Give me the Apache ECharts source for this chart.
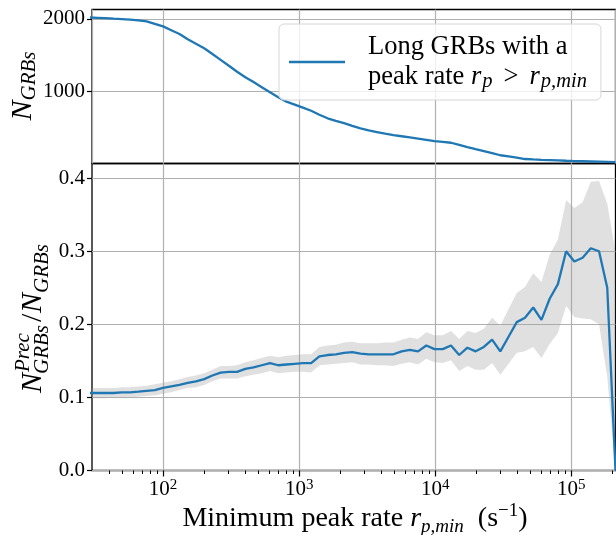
<!DOCTYPE html>
<html><head><meta charset="utf-8">
<script src="https://cdn.jsdelivr.net/npm/echarts@6/dist/echarts.min.js"></script>
<style>html,body{margin:0;padding:0;background:#fff}#c{width:616px;height:535px}</style>
</head><body><div id="c"></div>
<script>
// ---- data ----
const rpMin = [28.5, 32.8, 37.7, 43.3, 49.8, 57.2, 65.8, 75.6, 86.9, 99.9, 114.8, 131.9, 151.7, 174.3, 200.4, 230.3, 264.7, 304.3, 349.8, 402.0, 462.0, 531.1, 610.5, 701.8, 806.5, 927.1, 1066, 1225, 1408, 1618, 1860, 2138, 2457, 2824, 3246, 3732, 4289, 4930, 5667, 6513, 7486, 8604, 9890, 11370, 13070, 15020, 17260, 19840, 22800, 26210, 30130, 34630, 39800, 45750, 52580, 60440, 69470, 79850, 91780, 105500, 121300, 139400, 160200, 184100, 211700];
const nGRBs = [2020, 2015, 2010, 2003, 1997, 1990, 1980, 1966, 1931, 1897, 1844, 1791, 1719, 1656, 1594, 1515, 1434, 1352, 1269, 1194, 1126, 1056, 985, 915, 856, 815, 773, 730, 674, 625, 590, 558, 521, 487, 457, 435, 413, 394, 377, 360, 343, 326, 309, 299, 287, 258, 228, 199, 171, 143, 114, 97, 80, 62, 56, 51, 47, 43, 38, 34, 31, 28, 25, 22, 18];
const fracPrec = [0.106, 0.106, 0.106, 0.106, 0.107, 0.107, 0.108, 0.109, 0.110, 0.113, 0.115, 0.117, 0.120, 0.122, 0.125, 0.130, 0.134, 0.135, 0.135, 0.139, 0.141, 0.144, 0.147, 0.144, 0.145, 0.146, 0.147, 0.147, 0.156, 0.158, 0.159, 0.161, 0.162, 0.160, 0.159, 0.159, 0.159, 0.159, 0.163, 0.165, 0.163, 0.171, 0.166, 0.166, 0.171, 0.158, 0.168, 0.163, 0.169, 0.179, 0.163, 0.183, 0.203, 0.209, 0.223, 0.206, 0.235, 0.255, 0.300, 0.286, 0.291, 0.304, 0.300, 0.250, 0.0];
const fracHigh = [0.113, 0.113, 0.113, 0.113, 0.114, 0.114, 0.115, 0.116, 0.118, 0.120, 0.122, 0.125, 0.128, 0.130, 0.133, 0.138, 0.143, 0.143, 0.144, 0.148, 0.151, 0.154, 0.157, 0.155, 0.157, 0.158, 0.159, 0.159, 0.169, 0.171, 0.172, 0.175, 0.176, 0.174, 0.174, 0.174, 0.175, 0.175, 0.179, 0.182, 0.180, 0.189, 0.185, 0.185, 0.191, 0.180, 0.191, 0.188, 0.194, 0.209, 0.198, 0.221, 0.243, 0.251, 0.270, 0.258, 0.295, 0.316, 0.370, 0.359, 0.367, 0.395, 0.396, 0.365, 0.299];
const fracLow = [0.099, 0.099, 0.099, 0.100, 0.100, 0.100, 0.101, 0.102, 0.103, 0.105, 0.107, 0.110, 0.113, 0.114, 0.117, 0.122, 0.126, 0.126, 0.126, 0.129, 0.131, 0.133, 0.136, 0.133, 0.134, 0.135, 0.135, 0.134, 0.144, 0.145, 0.146, 0.147, 0.148, 0.145, 0.145, 0.144, 0.144, 0.143, 0.146, 0.148, 0.145, 0.153, 0.148, 0.147, 0.151, 0.136, 0.143, 0.138, 0.138, 0.147, 0.131, 0.146, 0.161, 0.163, 0.169, 0.154, 0.173, 0.188, 0.225, 0.210, 0.208, 0.207, 0.200, 0.128, 0.0];
const xTickValues = [100, 1000, 10000, 100000];
const nTickValues = [1000, 2000];
const fracTickValues = [0, 0.1, 0.2, 0.3, 0.4];
const seriesName = 'Long GRBs with a peak rate r_p > r_p,min';

// ---- styling ----
const FONT = 'Liberation Serif';
const BLUE = '#1f77b4';
const GRIDC = '#b0b0b0';
const X_MIN = 30, X_MAX = 211700;

const minorTicks = [];
for (let d = 1; d <= 5; d++) {
  for (let m = 2; m <= 9; m++) {
    const v = m * Math.pow(10, d);
    if (v > X_MIN && v < X_MAX) minorTicks.push(v);
  }
}

const chart = echarts.init(document.getElementById('c'), null, {renderer: 'canvas'});

const supLabel = {
  b: {fontFamily: FONT, fontSize: 21, lineHeight: 24, color: '#000'},
  s: {fontFamily: FONT, fontSize: 15, lineHeight: 12, verticalAlign: 'top', color: '#000'}
};

const baseLog = {
  type: 'log', logBase: 10, min: X_MIN, max: X_MAX,
  axisLine: {show: false}
};

const option = {
  animation: false,
  backgroundColor: '#fff',
  grid: [
    {left: 92, top: 9.5, width: 523.5, height: 154, show: true, borderColor: '#000', borderWidth: 1.3, backgroundColor: 'transparent'},
    {left: 92, top: 163.5, width: 523.5, height: 307, show: true, borderColor: '#000', borderWidth: 1.3, backgroundColor: 'transparent'}
  ],
  xAxis: [
    Object.assign({}, baseLog, {
      gridIndex: 0, position: 'bottom',
      axisTick: {show: false}, axisLabel: {show: false},
      splitLine: {show: true, lineStyle: {color: GRIDC, width: 1.2}}
    }),
    Object.assign({}, baseLog, {
      gridIndex: 1, position: 'bottom',
      axisTick: {show: true, length: 6, customValues: xTickValues, lineStyle: {color: '#000', width: 1.2}},
      axisLabel: {
        show: true, customValues: xTickValues, margin: 7,
        formatter: v => '{b|10}{s|' + Math.round(Math.log10(v)) + '}',
        rich: supLabel
      },
      splitLine: {show: true, lineStyle: {color: GRIDC, width: 1.2}}
    }),
    Object.assign({}, baseLog, {
      gridIndex: 1, position: 'bottom',
      axisTick: {show: true, length: 3.5, customValues: minorTicks, lineStyle: {color: '#000', width: 1}},
      axisLabel: {show: false},
      splitLine: {show: false}
    })
  ],
  yAxis: [
    {
      gridIndex: 0, type: 'value', min: 0, max: 2130, interval: 1000,
      axisLine: {show: false},
      axisTick: {show: true, length: 5, customValues: nTickValues, lineStyle: {color: '#000', width: 1.2}},
      axisLabel: {customValues: nTickValues, margin: 7, fontFamily: FONT, fontSize: 21, color: '#000',
        formatter: v => String(v)},
      splitLine: {show: true, lineStyle: {color: GRIDC, width: 1.2}}
    },
    {
      gridIndex: 1, type: 'value', min: 0, max: 0.42, interval: 0.1,
      axisLine: {show: false},
      axisTick: {show: true, length: 5, customValues: fracTickValues, lineStyle: {color: '#000', width: 1.2}},
      axisLabel: {customValues: fracTickValues, margin: 7, fontFamily: FONT, fontSize: 21, color: '#000',
        formatter: v => v.toFixed(1)},
      splitLine: {show: true, lineStyle: {color: GRIDC, width: 1.2}}
    }
  ],
  legend: {
    left: 279, top: 24,
    selectedMode: false,
    data: [{name: seriesName, icon: 'rect'}],
    itemWidth: 56, itemHeight: 2.4,
    padding: [8, 14, 8, 10],
    backgroundColor: 'rgba(255,255,255,0.8)',
    borderColor: '#d6d6d6', borderWidth: 1, borderRadius: 5,
    formatter: () => 'Long GRBs with a\npeak rate {it|r}{sub|p}{rel|>}{it|r}{sub|p,min}',
    textStyle: {
      fontFamily: FONT, fontSize: 26.5, lineHeight: 30, color: '#000', padding: [0, 0, 0, 18],
      rich: {
        it: {fontFamily: FONT, fontStyle: 'italic', fontSize: 26.5, lineHeight: 30, color: '#000'},
        rel: {fontFamily: FONT, fontSize: 26.5, lineHeight: 30, color: '#000', padding: [0, 11, 0, 11]},
        sub: {fontFamily: FONT, fontStyle: 'italic', fontSize: 20.5, lineHeight: 14, verticalAlign: 'bottom', color: '#000', padding: [0, 0, 0, 1]}
      }
    }
  },
  series: [
    {
      name: seriesName, type: 'line', xAxisIndex: 0, yAxisIndex: 0,
      data: rpMin.map((x, k) => [x, nGRBs[k]]),
      symbol: 'none', color: BLUE,
      lineStyle: {color: BLUE, width: 2.3}, z: 3
    },
    {
      name: 'band', type: 'custom', xAxisIndex: 1, yAxisIndex: 1, silent: true, z: 1,
      data: [[1000, 0.2]],
      renderItem: (params, api) => {
        const pts = [];
        for (let k = 0; k < rpMin.length; k++) pts.push(api.coord([rpMin[k], fracHigh[k]]));
        for (let k = rpMin.length - 1; k >= 0; k--) pts.push(api.coord([rpMin[k], Math.max(fracLow[k], 0)]));
        const cs = params.coordSys;
        return {
          type: 'polygon', shape: {points: pts},
          style: {fill: 'rgba(160,160,160,0.33)'},
          clipPath: {type: 'rect', shape: {x: cs.x, y: cs.y, width: cs.width, height: cs.height}}
        };
      }
    },
    {
      name: 'ratio', type: 'line', xAxisIndex: 1, yAxisIndex: 1,
      data: rpMin.map((x, k) => [x, fracPrec[k]]),
      symbol: 'none', color: BLUE,
      lineStyle: {color: BLUE, width: 2.3}, z: 3
    }
  ],
  graphic: [
    {
      type: 'text', x: 23, y: 86, rotation: Math.PI / 2,
      style: {
        text: '{n|N}{s|GRBs}', align: 'center', verticalAlign: 'middle',
        rich: {
          n: {fontFamily: FONT, fontStyle: 'italic', fontSize: 30, lineHeight: 34, color: '#000'},
          s: {fontFamily: FONT, fontStyle: 'italic', fontSize: 21, lineHeight: 14, verticalAlign: 'bottom', color: '#000'}
        }
      }
    },
    {
      type: 'group', x: 33, y: 316, rotation: Math.PI / 2,
      children: [
        {type: 'text', x: -77, y: 0, style: {text: 'N', fontFamily: FONT, fontStyle: 'italic', fontSize: 30, fill: '#000', align: 'left', verticalAlign: 'middle'}},
        {type: 'text', x: -56, y: -10, style: {text: 'Prec', fontFamily: FONT, fontStyle: 'italic', fontSize: 21, fill: '#000', align: 'left', verticalAlign: 'middle'}},
        {type: 'text', x: -58, y: 9, style: {text: 'GRBs', fontFamily: FONT, fontStyle: 'italic', fontSize: 21, fill: '#000', align: 'left', verticalAlign: 'middle'}},
        {type: 'text', x: -6, y: 0, style: {text: '/', fontFamily: FONT, fontSize: 30, fill: '#000', align: 'left', verticalAlign: 'middle'}},
        {type: 'text', x: 3, y: 0, style: {text: 'N', fontFamily: FONT, fontStyle: 'italic', fontSize: 30, fill: '#000', align: 'left', verticalAlign: 'middle'}},
        {type: 'text', x: 23, y: 9, style: {text: 'GRBs', fontFamily: FONT, fontStyle: 'italic', fontSize: 21, fill: '#000', align: 'left', verticalAlign: 'middle'}}
      ]
    },
    {
      type: 'text', x: 355, y: 519,
      style: {
        text: 'Minimum peak rate {it|r}{sub|p,min}  (s{sup|\u22121})',
        fontFamily: FONT, fontSize: 28, lineHeight: 34, fill: '#000',
        align: 'center', verticalAlign: 'middle',
        rich: {
          it: {fontFamily: FONT, fontStyle: 'italic', fontSize: 28, lineHeight: 34, color: '#000'},
          sub: {fontFamily: FONT, fontStyle: 'italic', fontSize: 19, lineHeight: 14, verticalAlign: 'bottom', color: '#000'},
          sup: {fontFamily: FONT, fontSize: 19, lineHeight: 14, verticalAlign: 'top', color: '#000'}
        }
      }
    }
  ]
};
chart.setOption(option);
</script>
</body></html>
